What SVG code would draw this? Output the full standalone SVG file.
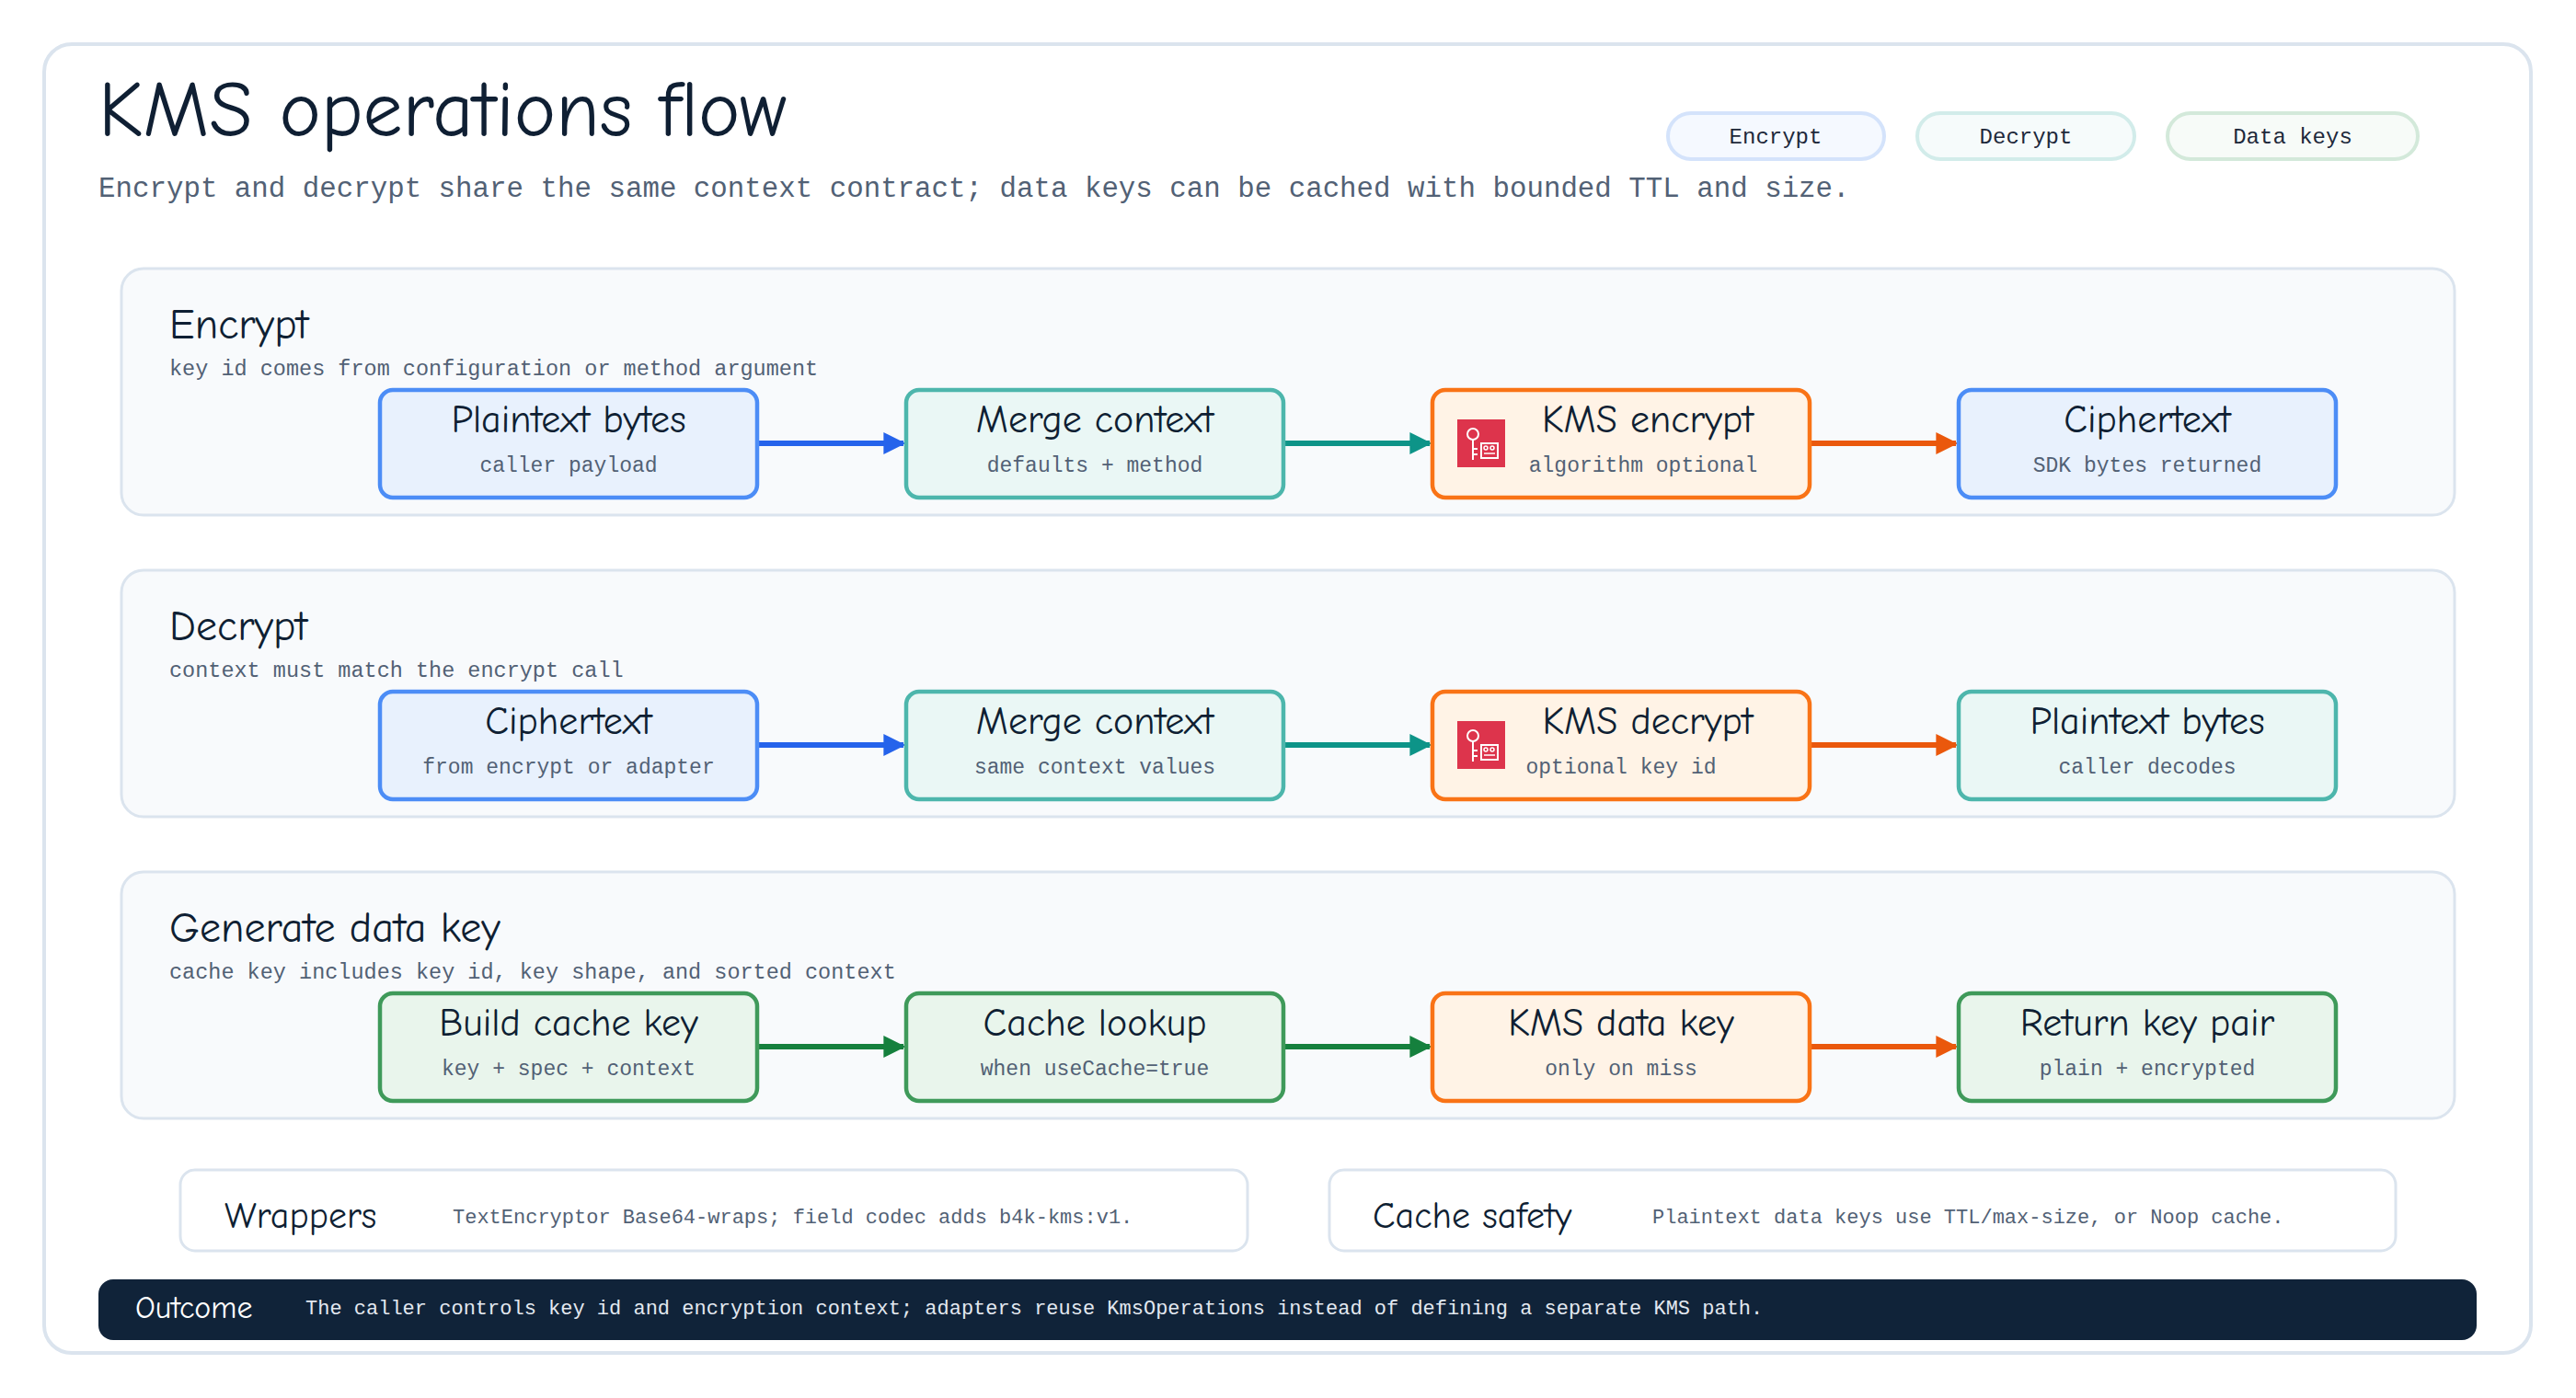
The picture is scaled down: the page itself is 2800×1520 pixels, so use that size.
<svg xmlns="http://www.w3.org/2000/svg" width="2800" height="1520" viewBox="0 0 2800 1520">
<style>
.h{font-family:"Comic Neue","Lato","Noto Sans",sans-serif;fill:#0f1f33}
.m{font-family:"Liberation Mono","DejaVu Sans Mono",monospace;fill:#526175}
.lane{fill:#f8fafc;stroke:#dbe4ee;stroke-width:3}
.nt{font-size:42px;text-anchor:middle}
.ns{font-size:23px;text-anchor:middle}
.blue{fill:#e8f1fd;stroke:#4c8df6;stroke-width:4.5}
.teal{fill:#eaf7f5;stroke:#4db6ac;stroke-width:4.5}
.orange{fill:#fff3e6;stroke:#f97316;stroke-width:4.5}
.green{fill:#e9f5ec;stroke:#3f9a5a;stroke-width:4.5}
.c{stroke-width:6;fill:none}
</style>
<defs>
<marker id="ab" viewBox="0 0 10 10" refX="9" refY="5" markerWidth="4" markerHeight="4" orient="auto"><path d="M0,0L10,5L0,10z" fill="#2563eb"/></marker>
<marker id="at" viewBox="0 0 10 10" refX="9" refY="5" markerWidth="4" markerHeight="4" orient="auto"><path d="M0,0L10,5L0,10z" fill="#0d9488"/></marker>
<marker id="ao" viewBox="0 0 10 10" refX="9" refY="5" markerWidth="4" markerHeight="4" orient="auto"><path d="M0,0L10,5L0,10z" fill="#ea580c"/></marker>
<marker id="ag" viewBox="0 0 10 10" refX="9" refY="5" markerWidth="4" markerHeight="4" orient="auto"><path d="M0,0L10,5L0,10z" fill="#15803d"/></marker>
<g id="kmsicon"><rect width="52" height="52" fill="#dd344c"/><circle cx="17" cy="16" r="6" fill="none" stroke="#fff" stroke-width="2"/><path d="M17 22V44M17 32h5M17 38h5M26 26h18v16H26z" fill="none" stroke="#fff" stroke-width="2"/><circle cx="31" cy="31" r="2" fill="none" stroke="#fff" stroke-width="1.5"/><circle cx="38" cy="31" r="2" fill="none" stroke="#fff" stroke-width="1.5"/><path d="M29 37h12" stroke="#fff" stroke-width="1.5"/></g>
</defs>
<rect width="2800" height="1520" fill="#fff"/>
<rect x="48" y="48" width="2703" height="1423" rx="30" fill="#fff" stroke="#dbe4ee" stroke-width="4"/>
<text class="h" x="107" y="148" font-size="86">KMS operations flow</text>
<text class="m" x="107" y="214" font-size="30.8">Encrypt and decrypt share the same context contract; data keys can be cached with bounded TTL and size.</text>
<g id="legend" class="m" font-size="24" text-anchor="middle" style="fill:#1e293b">
<rect x="1813" y="123" width="235" height="50" rx="25" fill="#f5f9ff" stroke="#d4e3fb" stroke-width="4"/><text x="1930" y="156">Encrypt</text>
<rect x="2084" y="123" width="236" height="50" rx="25" fill="#f6fbfb" stroke="#d2ecea" stroke-width="4"/><text x="2202" y="156">Decrypt</text>
<rect x="2356" y="123" width="272" height="50" rx="25" fill="#f7fbf8" stroke="#d3e9da" stroke-width="4"/><text x="2492" y="156">Data keys</text>
</g>
<g id="lane-encrypt"><rect class="lane" x="132" y="292" width="2536" height="268" rx="24"/><text class="h" x="184" y="368" font-size="46">Encrypt</text><text class="m" x="184" y="408" font-size="23.5">key id comes from configuration or method argument</text></g>
<g id="lane-decrypt"><rect class="lane" x="132" y="620" width="2536" height="268" rx="24"/><text class="h" x="184" y="696" font-size="46">Decrypt</text><text class="m" x="184" y="736" font-size="23.5">context must match the encrypt call</text></g>
<g id="lane-datakey"><rect class="lane" x="132" y="948" width="2536" height="268" rx="24"/><text class="h" x="184" y="1024" font-size="46">Generate data key</text><text class="m" x="184" y="1064" font-size="23.5">cache key includes key id, key shape, and sorted context</text></g>
<g id="connectors">
<path class="c" stroke="#2563eb" marker-end="url(#ab)" d="M824 482H982"/>
<path class="c" stroke="#0d9488" marker-end="url(#at)" d="M1396 482H1554"/>
<path class="c" stroke="#ea580c" marker-end="url(#ao)" d="M1968 482H2126"/>
<path class="c" stroke="#2563eb" marker-end="url(#ab)" d="M824 810H982"/>
<path class="c" stroke="#0d9488" marker-end="url(#at)" d="M1396 810H1554"/>
<path class="c" stroke="#ea580c" marker-end="url(#ao)" d="M1968 810H2126"/>
<path class="c" stroke="#15803d" marker-end="url(#ag)" d="M824 1138H982"/>
<path class="c" stroke="#15803d" marker-end="url(#ag)" d="M1396 1138H1554"/>
<path class="c" stroke="#ea580c" marker-end="url(#ao)" d="M1968 1138H2126"/>
</g>
<g id="n-e1"><rect class="blue" x="413" y="424" width="410" height="117" rx="14"/><text class="h nt" x="618" y="470">Plaintext bytes</text><text class="m ns" x="618" y="513">caller payload</text></g>
<g id="n-e2"><rect class="teal" x="985" y="424" width="410" height="117" rx="14"/><text class="h nt" x="1190" y="470">Merge context</text><text class="m ns" x="1190" y="513">defaults + method</text></g>
<g id="n-e3"><rect class="orange" x="1557" y="424" width="410" height="117" rx="14"/><use href="#kmsicon" x="1584" y="456"/><text class="h nt" x="1791" y="470">KMS encrypt</text><text class="m ns" x="1786" y="513">algorithm optional</text></g>
<g id="n-e4"><rect class="blue" x="2129" y="424" width="410" height="117" rx="14"/><text class="h nt" x="2334" y="470">Ciphertext</text><text class="m ns" x="2334" y="513">SDK bytes returned</text></g>
<g id="n-d1"><rect class="blue" x="413" y="752" width="410" height="117" rx="14"/><text class="h nt" x="618" y="798">Ciphertext</text><text class="m ns" x="618" y="841">from encrypt or adapter</text></g>
<g id="n-d2"><rect class="teal" x="985" y="752" width="410" height="117" rx="14"/><text class="h nt" x="1190" y="798">Merge context</text><text class="m ns" x="1190" y="841">same context values</text></g>
<g id="n-d3"><rect class="orange" x="1557" y="752" width="410" height="117" rx="14"/><use href="#kmsicon" x="1584" y="784"/><text class="h nt" x="1791" y="798">KMS decrypt</text><text class="m ns" x="1762" y="841">optional key id</text></g>
<g id="n-d4"><rect class="teal" x="2129" y="752" width="410" height="117" rx="14"/><text class="h nt" x="2334" y="798">Plaintext bytes</text><text class="m ns" x="2334" y="841">caller decodes</text></g>
<g id="n-g1"><rect class="green" x="413" y="1080" width="410" height="117" rx="14"/><text class="h nt" x="618" y="1126">Build cache key</text><text class="m ns" x="618" y="1169">key + spec + context</text></g>
<g id="n-g2"><rect class="green" x="985" y="1080" width="410" height="117" rx="14"/><text class="h nt" x="1190" y="1126">Cache lookup</text><text class="m ns" x="1190" y="1169">when useCache=true</text></g>
<g id="n-g3"><rect class="orange" x="1557" y="1080" width="410" height="117" rx="14"/><text class="h nt" x="1762" y="1126">KMS data key</text><text class="m ns" x="1762" y="1169">only on miss</text></g>
<g id="n-g4"><rect class="green" x="2129" y="1080" width="410" height="117" rx="14"/><text class="h nt" x="2334" y="1126">Return key pair</text><text class="m ns" x="2334" y="1169">plain + encrypted</text></g>
<g id="wrappers"><rect x="196" y="1272" width="1160" height="88" rx="16" fill="#fff" stroke="#dbe4ee" stroke-width="3"/><text class="h" x="244" y="1335" font-size="40">Wrappers</text><text class="m" x="492" y="1330" font-size="22">TextEncryptor Base64-wraps; field codec adds b4k-kms:v1.</text></g>
<g id="cache-safety"><rect x="1445" y="1272" width="1159" height="88" rx="16" fill="#fff" stroke="#dbe4ee" stroke-width="3"/><text class="h" x="1492" y="1335" font-size="40">Cache safety</text><text class="m" x="1796" y="1330" font-size="22">Plaintext data keys use TTL/max-size, or Noop cache.</text></g>
<g id="outcome"><rect x="107" y="1391" width="2585" height="66" rx="16" fill="#102339"/><text class="h" x="147" y="1433" font-size="34" style="fill:#fff">Outcome</text><text class="m" x="332" y="1429" font-size="22" style="fill:#e2e8f0">The caller controls key id and encryption context; adapters reuse KmsOperations instead of defining a separate KMS path.</text></g>
</svg>
